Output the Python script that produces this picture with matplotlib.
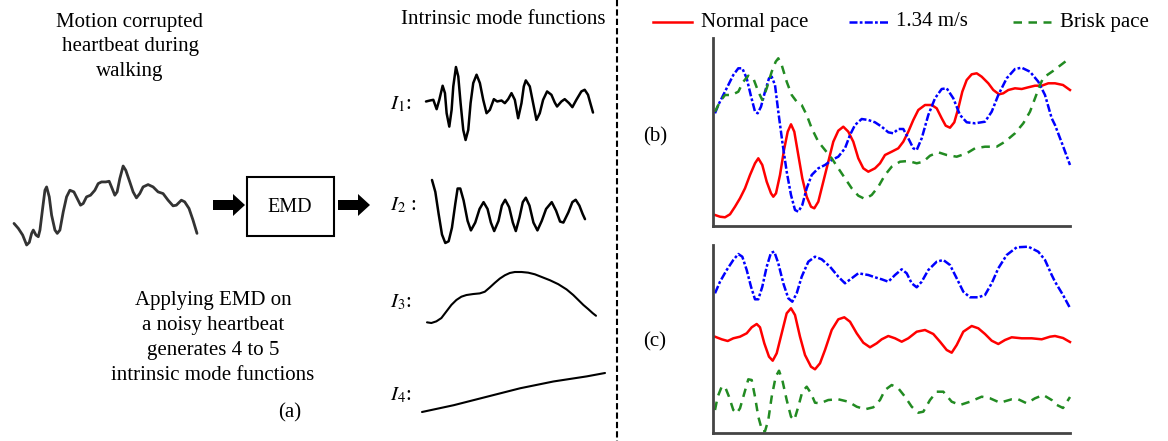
import matplotlib.pyplot as plt

plt.rcParams['font.family'] = ['Liberation Serif', 'DejaVu Serif']
plt.rcParams['mathtext.fontset'] = 'stix'

W, H = 1168, 441

# noisy heartbeat during walking (sample, amplitude)
beat_t = [42, 55, 68, 80, 88, 95, 100, 108, 115, 120, 128, 135, 140, 148, 155, 165, 172, 180, 190,
          200, 210, 222, 232, 242, 250, 260, 272, 285, 295, 305, 318, 328, 335, 345, 352, 360, 370,
          378, 390, 400, 410, 420, 430, 445, 460, 475, 490, 505, 520, 530, 545, 555, 568, 580, 592]
beat_v = [95, 80, 60, 30, 38, 65, 75, 60, 55, 75, 140, 195, 205, 175, 120, 75, 65, 75, 130, 175, 195,
          190, 170, 150, 155, 175, 180, 195, 215, 220, 220, 222, 205, 180, 190, 230, 268, 255, 220,
          190, 172, 185, 205, 212, 205, 190, 185, 165, 148, 150, 165, 160, 140, 105, 65]

# intrinsic mode functions
imf1_t = [18, 30, 40, 50, 58, 68, 75, 80, 88, 95, 100, 108, 115, 122, 130, 137, 145, 152, 160, 170,
          180, 190, 200, 210, 222, 232, 245, 255, 265, 275, 285, 295, 305, 312, 318, 330, 340, 350,
          360, 370, 382, 395, 405, 412, 425, 435, 448, 458, 470, 485, 495, 505, 512, 520]
imf1_v = [155, 158, 160, 132, 160, 202, 180, 120, 80, 130, 200, 258, 230, 150, 70, 40, 70, 150, 210,
          235, 210, 160, 120, 130, 162, 155, 158, 150, 162, 180, 160, 105, 150, 200, 218, 200, 150,
          100, 120, 160, 185, 175, 152, 140, 155, 162, 150, 138, 160, 185, 190, 175, 150, 122]
imf2_t = [185, 195, 205, 215, 225, 235, 245, 255, 262, 270, 280, 292, 302, 315, 328, 340, 352, 362,
          372, 385, 395, 405, 417, 428, 437, 448, 458, 467, 478, 490, 502, 515, 528, 545, 558, 570,
          580, 595, 607, 617, 628, 638, 645]
imf2_v = [200, 165, 100, 40, 15, 20, 60, 130, 175, 175, 140, 80, 52, 75, 115, 135, 115, 75, 50, 80,
          125, 142, 120, 75, 50, 90, 135, 148, 125, 75, 52, 80, 115, 135, 110, 78, 75, 105, 135, 142,
          125, 100, 85]
imf3_t = [172, 185, 200, 215, 230, 245, 260, 275, 290, 310, 330, 345, 360, 375, 390, 405, 420, 435,
          455, 475, 495, 515, 540, 565, 590, 610, 625, 640, 655, 668, 678]
imf3_v = [2, 0, 5, 15, 35, 55, 70, 80, 85, 88, 90, 95, 108, 122, 135, 145, 152, 155, 155, 153, 148,
          140, 130, 118, 102, 85, 70, 55, 42, 30, 22]
imf4_t = [155, 250, 350, 450, 550, 650, 705]
imf4_v = [0, 20, 45, 70, 90, 105, 115]

# (b) raw heartbeat per walking speed
b_red_t = [2, 7, 12, 17, 22, 27, 32, 37, 42, 45.3, 49.3, 53.7, 58, 60.3, 63, 67, 71, 74.7, 78, 81.3,
           85.3, 89.3, 93.7, 98, 101.3, 105.3, 110.3, 115.3, 120.3, 125.3, 130.3, 135.3, 140.3,
           145.3, 150.3, 155.3, 162, 167, 172, 178.7, 185.3, 190.3, 195.3, 200.3, 205.3, 212,
           218.7, 223.7, 228.7, 232.7, 237, 241.3, 245.3, 249.3, 253.7, 258.7, 263.7, 268.7, 275.3,
           280.3, 286, 290.3, 295.3, 302, 308.7, 315.3, 322, 328.7, 335.3, 342, 350, 357]
b_red_v = [11, 9.3, 8.7, 11.7, 19.3, 27.7, 37.7, 51, 62.7, 67.7, 61, 44.3, 32.7, 29.3, 32.7, 51, 76,
           94.3, 101.7, 94.3, 71, 47.7, 29.3, 19.3, 17.7, 24.3, 44.3, 64.3, 84.3, 95.3, 99.3, 94.3,
           84.3, 67.7, 57.7, 54.3, 57.7, 62.7, 71, 74.3, 77.7, 84.3, 94.3, 106, 116, 121, 121, 117.7,
           107.7, 100.3, 98.3, 103.7, 117.7, 134.3, 146, 151.7, 152.7, 149.3, 142.7, 136, 131.7,
           132.7, 136, 137.7, 137, 138.7, 140.3, 140.3, 142.7, 142.7, 141, 136]
b_blue_t = [2, 5.3, 10.3, 15.3, 20.3, 25.3, 29.3, 33.7, 37.7, 42, 44.7, 48, 52, 56, 58.7, 62, 65.3,
            69.3, 73.7, 78, 82, 85.3, 89.3, 93.7, 98.7, 105.3, 112, 118.7, 125.3, 132, 137, 142,
            148.7, 155.3, 162, 168.7, 175.3, 180.3, 185.3, 190.3, 195.3, 200.3, 203.7, 208.7,
            215.3, 222, 228.7, 233.7, 240.3, 247, 253.7, 262, 272, 278.7, 285.3, 293.7, 302, 308.7,
            317, 325.3, 332, 338.7, 342, 350, 357]
b_blue_v = [112.7, 121, 131, 141, 151, 157.7, 157.7, 147.7, 131, 114.3, 112.7, 119.3, 134.3, 147.7,
            149.3, 141, 114.3, 84.3, 54.3, 31, 16, 14.3, 21, 37.7, 51, 57.7, 61, 66, 69.3, 77.7, 91,
            101, 107, 106, 103.7, 99.3, 93.7, 92.7, 97, 97, 87.7, 77.7, 76, 87.7, 111, 127.7, 137,
            137.7, 127.7, 111, 103.7, 102.7, 104.3, 114.3, 131, 147.7, 157, 158.3, 154.3, 144.3,
            131, 107.7, 101, 80, 61]
b_green_t = [2, 7, 12, 18.7, 25.3, 30.3, 35.3, 40.3, 45.3, 49.3, 53.7, 58.7, 62.7, 65.3, 68.7, 73.7,
             78.7, 83.7, 88.7, 93.7, 98.7, 105.3, 112, 118.7, 125.3, 132, 138.7, 145.3, 152, 158.7,
             165.3, 172, 178.7, 187, 195.3, 203.7, 210.3, 217, 225.3, 233.7, 243.7, 253.7, 262,
             272, 283.7, 292, 302, 310.3, 317, 322, 327, 330.3, 340, 357]
b_green_v = [114.3, 124.3, 131, 131, 134.3, 144.3, 150.3, 147.7, 134.3, 126, 137.7, 154.3, 164.3,
             167.7, 161, 144.3, 131, 124.3, 121, 111, 97.7, 84.3, 76, 67.7, 57.7, 47.7, 37.7, 30.3,
             27, 31, 39.3, 51, 59.3, 64.3, 65, 62.7, 64.3, 70.3, 73.7, 71, 69.3, 72.7, 77.7, 79.3,
             79.3, 84.3, 92.7, 102.7, 114.3, 127.7, 141, 148.3, 155, 168]

# (c) intrinsic mode function per walking speed
c_blue_t = [2, 7, 13.7, 20.3, 25.3, 29.3, 33.7, 38, 42, 45.3, 49.3, 53.7, 58, 61.3, 65.3, 70.3, 75.3,
            79.3, 83.7, 88.7, 95.3, 102, 108.7, 117, 125.3, 132, 138.7, 145.3, 155.3, 162, 168.7,
            175.3, 182, 188.7, 193.7, 198.7, 203.7, 208.7, 215.3, 223.7, 230.3, 237, 243.7, 250.3,
            257, 265.3, 272, 278.7, 285.3, 293.7, 303.7, 315.3, 325.3, 332, 338.7, 342, 350, 357]
c_blue_v = [139.7, 151.3, 163, 173, 179, 176.3, 163, 146.3, 133.7, 133.7, 146.3, 166.3, 180.3, 181.3,
            169.7, 149.7, 134.7, 131.3, 139.7, 156.3, 171.3, 176.3, 173.7, 166.3, 156.3, 149.7,
            154.7, 159.7, 158, 155.7, 153.7, 151.3, 158, 163.7, 159.7, 149.7, 145.7, 151.3, 163,
            171.3, 173, 168, 154.7, 141.3, 135.7, 135.7, 138, 149.7, 164.7, 178, 185.7, 186.3, 181.3,
            173, 158, 151.3, 138, 125]
c_red_t = [2, 8.7, 14.7, 20.3, 27, 33.7, 38.7, 43.7, 47, 51.3, 56, 59.7, 63.7, 68.7, 73.7, 78, 82, 87,
           92, 98, 102, 107, 112, 118.7, 125.3, 131.3, 137, 143.7, 150.3, 157, 163.7, 168.7, 175.3,
           182, 188.7, 195.3, 203.7, 212, 220.3, 227, 233.7, 238.7, 243.7, 250.3, 258.7, 265.3, 272,
           278.7, 285.3, 292, 298.7, 308.7, 318.7, 328.7, 337, 342, 350, 357]
c_red_v = [96.3, 93.7, 92, 94.7, 96.3, 99.7, 105.7, 109, 105.7, 89.7, 76.3, 72.3, 79.7, 99.7, 119.7,
           124.7, 118, 96.3, 78, 66.3, 63.7, 69.7, 83, 103, 113.7, 115.7, 111.3, 99.7, 90.3, 85.7,
           89.7, 93.7, 97, 94.7, 91.3, 94.7, 101.3, 103, 99, 91.3, 83, 80.3, 88, 101.3, 107, 104.7,
           99, 92.3, 89, 93, 95.7, 94.7, 94.7, 93.7, 96.3, 97, 95, 91]
c_green_t = [2, 4.7, 8.7, 12, 16, 20.3, 23.7, 27, 31.3, 35.3, 38.7, 42, 45.3, 49.3, 52, 55.3, 58.7,
             62.7, 66, 69.3, 73.7, 78, 81.3, 85.3, 89.3, 93.7, 98, 102, 107, 115.3, 125.3, 135.3,
             143.7, 152, 160.3, 167, 172, 178.7, 185.3, 192, 198.7, 205.3, 210.3, 217, 223.7, 230.3,
             238.7, 247, 257, 268.7, 277, 287, 298.7, 305.3, 313.7, 322, 330.3, 338.7, 342, 350, 357]
c_green_v = [23, 36.3, 46.3, 46.3, 36.3, 23, 19.7, 24.7, 39.7, 53.7, 53, 36.3, 16.3, 1.7, 1.7, 13,
             36.3, 56.3, 62.3, 53, 33, 16.3, 13, 26.3, 41.3, 46.3, 39.7, 30.3, 29.7, 33, 33.7, 31.3,
             26.3, 23.7, 25.7, 33, 43, 48, 44.7, 36.3, 26.3, 20.3, 21.3, 33, 41.3, 41.3, 31.3, 28,
             31.3, 36.3, 34.7, 30.3, 33.7, 33.7, 29.7, 34.7, 38, 33, 29, 25, 36]

RED, BLUE, GREEN = '#ff0000', '#0000ff', '#228b22'
red_kw = dict(color=RED, lw=1.8, solid_joinstyle='round')
blue_kw = dict(color=BLUE, lw=1.8, dashes=(3.2, 0.9, 1.1, 0.9))
green_kw = dict(color=GREEN, lw=1.8, dashes=(3.4, 2.6))


def px_axes(fig, left, top, right, bottom):
    return fig.add_axes([left / W, 1 - bottom / H, (right - left) / W, (bottom - top) / H])


def wave(fig, box, t, v, color='black', lw=1.8):
    ax = px_axes(fig, *box)
    ax.plot(t, v, color=color, lw=lw, clip_on=False, solid_joinstyle='round', solid_capstyle='round')
    ax.set_xlim(min(t), max(t))
    ax.set_ylim(min(v), max(v))
    ax.axis('off')
    return ax


fig = plt.figure(figsize=(W / 100, H / 100), dpi=100)
bg = fig.add_axes([0, 0, 1, 1])
bg.set_xlim(0, W)
bg.set_ylim(H, 0)
bg.axis('off')

fs = 15
bg.text(130, 47, 'Motion corrupted\nheartbeat during\nwalking', ha='center', va='center',
        fontsize=fs, linespacing=1.42)
bg.text(213, 338, 'Applying EMD on\na noisy heartbeat\ngenerates 4 to 5\nintrinsic mode functions',
        ha='center', va='center', fontsize=fs, linespacing=1.42)
bg.text(290, 413, '(a)', ha='center', va='center', fontsize=fs)
bg.text(503, 20, 'Intrinsic mode functions', ha='center', va='center', fontsize=fs)
bg.text(655, 137, '(b)', ha='center', va='center', fontsize=fs)
bg.text(655, 342, '(c)', ha='center', va='center', fontsize=fs)

bg.add_patch(plt.Rectangle((247, 177), 87, 59, fill=False, ec='black', lw=1.5))
bg.text(290, 207, 'EMD', ha='center', va='center', fontsize=14.5)
bg.arrow(213, 205, 32, 0, width=10, head_width=22, head_length=12, length_includes_head=True,
         color='black', lw=0)
bg.arrow(338, 205, 32, 0, width=10, head_width=22, head_length=12, length_includes_head=True,
         color='black', lw=0)
bg.plot([617, 617], [0, H], color='black', lw=1.5, dashes=(3, 1.5))

for lab, y in [('$I_1$:', 104), ('$I_2$ :', 205), ('$I_3$:', 302), ('$I_4$:', 395)]:
    bg.text(390, y, lab, ha='left', va='center', fontsize=fs)

# legend row
lfs = 15
bg.plot([653, 692], [22, 22], **red_kw)
bg.text(701, 22, 'Normal pace', va='center', fontsize=lfs)
bg.plot([849, 889], [22, 22], **blue_kw)
bg.text(896, 22, '1.34 m/s', va='center', fontsize=lfs)
bg.plot([1013, 1051], [22, 22], **green_kw)
bg.text(1060, 22, 'Brisk pace', va='center', fontsize=lfs)

wave(fig, (14, 166, 197, 245), beat_t, beat_v, color='#333333', lw=2.0)
wave(fig, (426, 67, 593, 140), imf1_t, imf1_v)
wave(fig, (432, 180, 585, 243), imf2_t, imf2_v)
wave(fig, (427, 272, 596, 323), imf3_t, imf3_v, lw=1.5)
wave(fig, (422, 373, 605, 412), imf4_t, imf4_v, lw=1.5)

panels = [((713, 38, 1070, 226), [(b_red_t, b_red_v, red_kw), (b_blue_t, b_blue_v, blue_kw),
                                  (b_green_t, b_green_v, green_kw)]),
          ((713, 245, 1070, 433), [(c_blue_t, c_blue_v, blue_kw), (c_red_t, c_red_v, red_kw),
                                   (c_green_t, c_green_v, green_kw)])]
for box, curves in panels:
    ax = px_axes(fig, *box)
    for t, v, kw in curves:
        ax.plot(t, v, clip_on=False, **kw)
    ax.set_xlim(0, 357)
    ax.set_ylim(0, 188)
    ax.set_xticks([])
    ax.set_yticks([])
    ax.patch.set_alpha(0)
    for s in ['top', 'right']:
        ax.spines[s].set_visible(False)
    for s in ['left', 'bottom']:
        ax.spines[s].set_color('#444444')
        ax.spines[s].set_linewidth(2)

fig.savefig('out.png', dpi=100)
